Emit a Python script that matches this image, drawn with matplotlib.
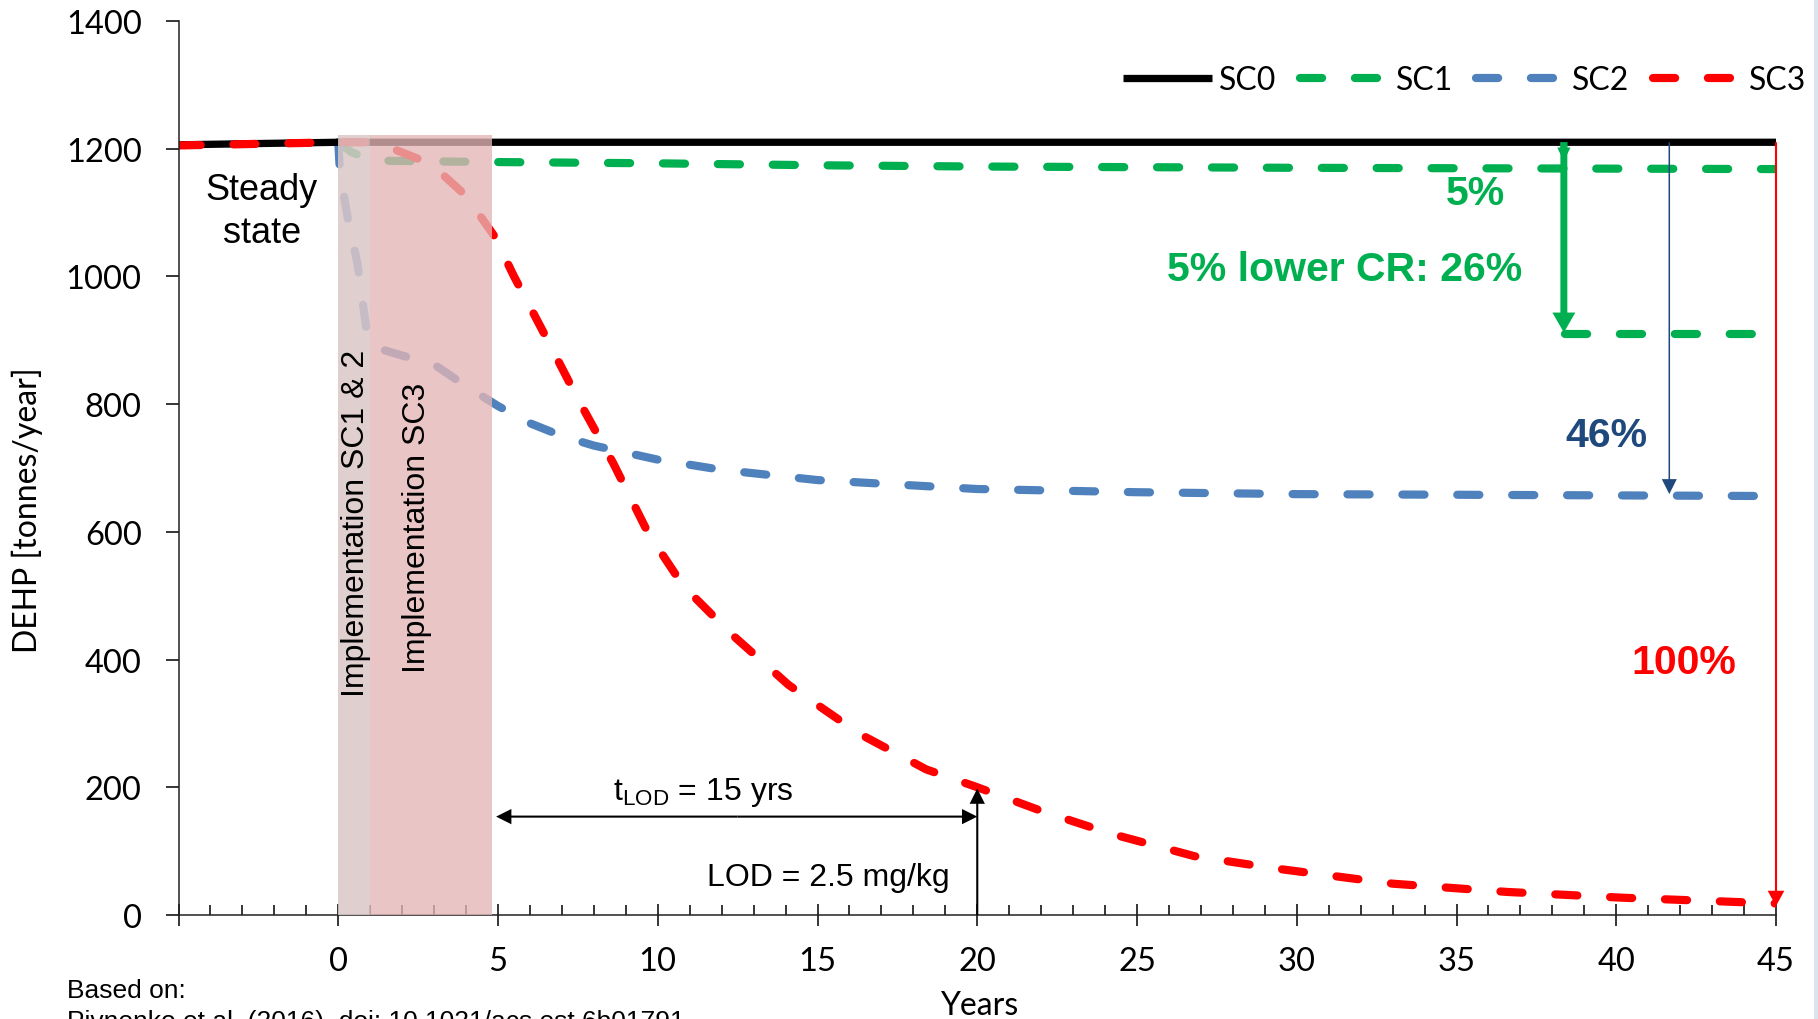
import numpy as np
import matplotlib.pyplot as plt
from matplotlib.patches import Rectangle
from matplotlib.ticker import MultipleLocator

# DEHP flows per scenario (tonnes/year)
years_sc0 = [-5, 0, 45]
sc0 = [1206, 1210, 1210]

years_sc1 = [0, 0.4, 0.9, 1.5, 3, 5, 10, 15, 20, 30, 45]
sc1 = [1210, 1195, 1184, 1181, 1180, 1179, 1177, 1174, 1172, 1170, 1168]

years_sc1_lower = [38.4, 45]
sc1_lower = [910, 910]

years_sc2 = [0, 0.05, 0.3, 0.6, 0.9, 1.2, 2, 3, 4, 5, 6, 7, 8, 10, 12, 15, 20, 25, 30, 35, 40, 45]
sc2 = [1210, 1165, 1090, 1020, 910, 888, 876, 862, 828, 797, 770, 750, 735, 713, 697, 681, 667, 662, 659, 658, 657, 656]

years_sc3 = [-5, 0, 1, 1.8, 2.6, 3.3, 4, 4.9, 5.5, 6.5, 7.5, 8.6, 9.7, 10.8, 12.3, 14.1, 16.3, 18.4,
             20, 22, 24.2, 26.8, 29.3, 33, 36.6, 40.2, 45]
sc3 = [1205, 1210, 1210, 1198, 1182, 1158, 1126, 1062, 1000, 905, 808, 708, 598, 515, 440, 360, 284, 228,
       200, 163, 127, 92, 73, 49, 36, 27, 18]

# implementation periods (years)
impl_sc12 = (0, 1)
impl_sc3 = (1, 4.8)

GREEN = '#00B050'
BLUE = '#4F81BD'
RED = '#FF0000'
NAVY = '#1F497D'
ARIAL = ['Liberation Sans', 'DejaVu Sans']
TICKFONT = ['Lato', 'DejaVu Sans']

fig = plt.figure(figsize=(18.18, 10.2), dpi=100)
ax = fig.add_axes([0.0982, 0.102, 0.8787, 0.8765])

dash = dict(lw=5.9, dashes=(2.7, 4.0), dash_capstyle='round')
l1, = ax.plot(years_sc1, sc1, color=GREEN, label='SC1', zorder=2, **dash)
ax.plot(years_sc1_lower, sc1_lower, color=GREEN, zorder=2, **dash)
l2, = ax.plot(years_sc2, sc2, color=BLUE, label='SC2', zorder=2, **dash)
l0, = ax.plot(years_sc0, sc0, color='black', lw=5.25, solid_capstyle='butt', label='SC0', zorder=2.1)
l3, = ax.plot(years_sc3, sc3, color=RED, label='SC3', zorder=2.2, **dash)

# implementation windows drawn over the lines
ax.add_patch(Rectangle((impl_sc12[0], 0), impl_sc12[1] - impl_sc12[0], 1222,
                       facecolor=(0.857, 0.78, 0.78), alpha=0.86, lw=0, zorder=3))
ax.add_patch(Rectangle((impl_sc3[0], 0), impl_sc3[1] - impl_sc3[0], 1222,
                       facecolor=(0.89, 0.71, 0.71), alpha=0.786, lw=0, zorder=3))

ax.set_xlim(-5, 45)
ax.set_ylim(0, 1400)
ax.set_xticks(range(-5, 46, 5))
ax.set_xticklabels([''] + [str(v) for v in range(0, 46, 5)])
ax.xaxis.set_minor_locator(MultipleLocator(1))
ax.set_yticks(range(0, 1401, 200))
for s in ['top', 'right']:
    ax.spines[s].set_visible(False)
for s in ['left', 'bottom']:
    ax.spines[s].set_linewidth(1.1)
    ax.spines[s].set_color('#222222')
ax.tick_params(axis='x', which='major', direction='inout', length=16, width=1.1, pad=14, labelsize=23.5)
ax.tick_params(axis='x', which='minor', direction='in', length=7.5, width=1.1)
ax.tick_params(axis='y', direction='out', length=9.5, width=1.1, pad=17, labelsize=23.5)
for lab in ax.get_xticklabels() + ax.get_yticklabels():
    lab.set_family(TICKFONT)

fig.text(27 / 1818, 1 - 510 / 1020, 'DEHP [tonnes/year]', rotation=90, ha='center', va='center',
         fontsize=23, family=TICKFONT)
fig.text(979 / 1818, 1 - 1006 / 1020, 'Years', ha='center', va='center', fontsize=23, family=TICKFONT)
fig.text(67 / 1818, 1 - 991 / 1020, 'Based on:', ha='left', va='center', fontsize=19, family=ARIAL)
fig.text(67 / 1818, -0.009, 'Pivnenko et al. (2016), doi: 10.1021/acs.est.6b01791', ha='left',
         va='baseline', fontsize=19, family=ARIAL)

ax.legend(handles=[l0, l1, l2, l3], loc='center right', bbox_to_anchor=(1806 / 1818, 1 - 81 / 1020),
          bbox_transform=fig.transFigure, ncol=4, frameon=False, borderpad=0, borderaxespad=0,
          handlelength=2.78, handletextpad=0.23, columnspacing=0.72,
          prop=dict(family=TICKFONT, size=23))

# text annotations
ax.text(-2.4, 1103, 'Steady\nstate', ha='center', va='center', fontsize=26, family=ARIAL,
        linespacing=1.3, zorder=5)
ax.text(0.54, 614, 'Implementation SC1 & 2', rotation=90, ha='center', va='center', fontsize=23,
        family=ARIAL, zorder=5)
ax.text(2.47, 608, 'Implementation SC3', rotation=90, ha='center', va='center', fontsize=23,
        family=ARIAL, zorder=5)
bold = dict(fontsize=29.5, fontweight='bold', family=ARIAL, ha='center', va='center', zorder=5)
ax.text(35.6, 1131, '5%', color=GREEN, **bold)
ax.text(31.5, 1011, '5% lower CR: 26%', color=GREEN, **bold)
ax.text(39.7, 752, '46%', color=NAVY, **bold)
ax.text(42.1, 396, '100%', color=RED, **bold)
ax.text(11.43, 194, r'$\mathregular{t_{LOD}}$ = 15 yrs', ha='center', va='center', fontsize=23,
        family=ARIAL, zorder=5)
ax.text(15.35, 60, 'LOD = 2.5 mg/kg', ha='center', va='center', fontsize=23, family=ARIAL, zorder=5)


def arrow(x0, y0, x1, y1, color, tail, hw, hl):
    ax.annotate('', xy=(x1, y1), xytext=(x0, y0),
                arrowprops=dict(arrowstyle='simple,head_length=%g,head_width=%g,tail_width=%g' % (hl, hw, tail),
                                mutation_scale=1, color=color, lw=0, shrinkA=0, shrinkB=0),
                zorder=6)


arrow(38.36, 1210, 38.36, 912, GREEN, 5, 16.5, 14.4)
arrow(38.36, 1210, 38.36, 1180, GREEN, 5, 9.5, 10)
arrow(41.66, 1210, 41.66, 659, NAVY, 1.1, 10.8, 10.8)
arrow(45, 1210, 45, 14, RED, 1.5, 12, 11)
arrow(12.5, 154, 4.94, 154, 'black', 1.5, 11, 11)
arrow(12.5, 154, 20, 154, 'black', 1.5, 11, 11)
arrow(20, 0, 20, 198, 'black', 1.5, 11, 11)

# thin strip at the right edge of the slide
fig.patches.append(Rectangle((1814 / 1818, 0), 4 / 1818, 1, transform=fig.transFigure,
                             facecolor='#DCE3EA', lw=0))

fig.savefig('out.png', dpi=100)
